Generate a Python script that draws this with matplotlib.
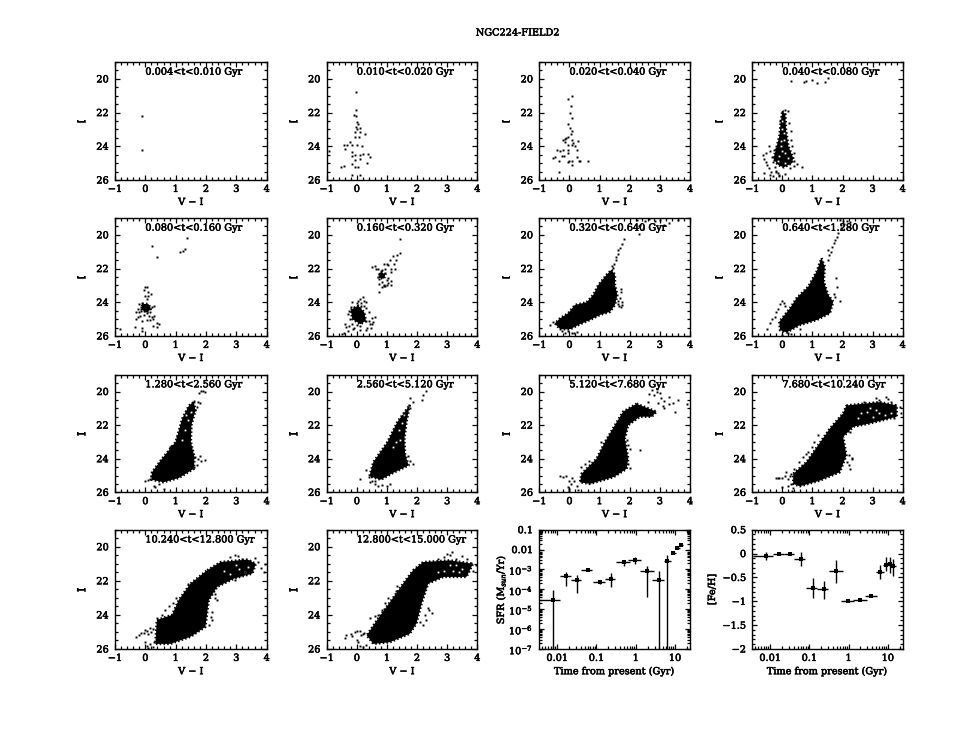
import matplotlib
matplotlib.use("Agg")
import matplotlib.pyplot as plt
import numpy as np
import matplotlib.patheffects as pe
from matplotlib.text import Text
from matplotlib.ticker import MultipleLocator, FixedLocator, FixedFormatter, NullFormatter

plt.rcParams['font.family'] = ['DejaVu Serif']
plt.rcParams['mathtext.fontset'] = 'dejavuserif'

W, H = 969, 748
TITLE = "NGC224-FIELD2"
AGE_LABELS = ["0.004<t<0.010 Gyr", "0.010<t<0.020 Gyr", "0.020<t<0.040 Gyr", "0.040<t<0.080 Gyr",
              "0.080<t<0.160 Gyr", "0.160<t<0.320 Gyr", "0.320<t<0.640 Gyr", "0.640<t<1.280 Gyr",
              "1.280<t<2.560 Gyr", "2.560<t<5.120 Gyr", "5.120<t<7.680 Gyr", "7.680<t<10.240 Gyr",
              "10.240<t<12.800 Gyr", "12.800<t<15.000 Gyr"]

# Individually readable stars (V-I, I)
stars_01 = ([-0.1, -0.1], [22.2, 24.2])
stars_02 = ([-0.03,-0.03,-0.1,-0.03,0.02,0.05,-0.03,0.1,0.02,-0.06,0.1,0.27,0.08,-0.06,-0.23,-0.15,-0.32,-0.4,-0.43,0.02,0.18,-0.92,-0.15,-0.06,0.1,0.21,0.38,0.44,0.33,-0.17,-0.06,0.1,-0.15,-0.06,0.05,-0.53,-0.42,-0.15,0.1],
            [20.8,21.85,22.15,22.2,22.55,22.7,22.85,22.9,23.0,23.15,23.15,23.3,23.45,23.45,23.75,23.95,23.9,24.15,23.95,23.9,24.0,24.25,24.35,24.5,24.5,24.45,24.45,24.65,25.0,24.6,24.8,24.75,25.05,25.2,25.25,25.2,25.15,25.7,25.7])
stars_03 = ([0.07,-0.04,0.04,0.02,0.07,-0.04,0.02,0.07,0.05,-0.04,-0.15,-0.2,-0.1,0.07,0.3,-0.15,-0.04,0.07,0.13,0.18,-0.04,0.24,-0.42,-0.31,-0.2,-0.04,-0.26,-0.18,-0.48,-0.56,-0.34,0.0,0.07,0.24,0.33,0.35,0.6,-0.04,0.07,-0.34],
            [21.03,21.2,21.6,22.0,22.3,22.7,22.9,23.1,23.3,23.45,23.55,23.65,23.5,23.6,23.7,23.75,23.9,23.9,23.8,24.0,24.2,24.2,24.2,24.3,24.2,24.4,24.55,24.55,24.65,24.67,24.85,24.85,24.9,24.65,24.85,24.9,24.9,24.95,25.1,25.5])
stars_04 = ([0.3,0.72,0.8,1.0,1.15,1.42,1.5,0.1,0.2,0.22,0.28,0.3,0.32,0.38,0.4,0.5,0.66,-0.65,-0.6,-0.55,-0.5,-0.45,-0.4,-0.35,-0.3,-0.25,-0.2,-0.38,-0.3,-0.22,-0.15,-0.1,-0.62,-0.45,-0.28,-0.12,0.1,0.25,0.4,-0.55,-0.4,-0.2,-0.08],
            [20.1,20.2,20.15,20.05,20.25,20.2,19.95,21.85,21.9,22.6,23.1,23.6,24.0,24.4,24.9,25.05,25.2,24.5,24.75,24.95,25.1,25.3,24.3,24.65,24.95,25.2,25.45,25.55,25.75,25.5,25.6,25.75,25.6,24.0,24.2,25.7,25.65,25.3,25.15,24.4,25.7,24.1,22.5])
stars_05 = ([0.22,0.4,1.15,1.25,1.32,1.37,-0.85,0.0,-0.05,0.05,0.1,0.1,0.18,-0.02,0.05,-0.1,-0.2,-0.15,-0.05,0.05,0.12,0.22,0.3,-0.25,-0.2,-0.15,-0.08,0.0,0.08,0.15,-0.3,-0.18,-0.05,0.05,0.12,0.22,0.3,-0.3,-0.25,-0.1,0.05,0.15,0.25,0.38,-0.35,-0.12,-0.1,0.25,0.38,0.45],
            [20.65,21.3,21.0,20.95,20.85,20.2,25.6,23.1,23.3,23.1,23.4,23.6,23.5,23.6,23.8,24.05,24.1,24.3,24.15,24.2,24.25,24.3,24.2,24.4,24.55,24.5,24.35,24.5,24.4,24.55,24.6,24.8,24.75,24.65,24.8,24.85,24.8,25.0,24.85,25.1,25.05,25.05,25.0,25.25,25.45,25.5,25.7,25.4,25.45,25.3])
stars_06 = ([1.45,1.42,1.35,1.2,1.1,1.0,1.3,1.25,1.05,0.9,0.6,0.5,0.7,0.65,0.82,0.72,0.95,1.12,1.28,0.95,1.15,1.05,0.75,0.85,1.0,0.82,0.9,1.12,0.72,0.75,0.9,1.0,0.95,1.05,1.12,0.72,0.8,0.85,
             0.2,0.12,0.05,0.25,0.3,0.15,-0.15,0.0,0.15,0.25,-0.2,-0.1,0.02,0.3,0.4,-0.15,0.4,-0.25,-0.3,0.0,0.1,0.45,0.55,0.62,0.5,-0.4,-0.35,-0.3,-0.25,-0.12,-0.42,0.35,0.48,0.52,-0.5,0.1,0.32,-0.22,-0.08,0.3,0.22],
            [20.25,21.05,21.2,21.25,21.5,21.7,21.5,21.75,21.8,21.75,21.85,21.9,22.0,22.0,22.1,22.3,22.25,22.05,22.0,22.0,22.2,22.55,22.6,22.8,22.7,23.1,23.05,23.0,23.4,22.9,22.95,23.0,23.05,22.85,22.75,22.3,22.15,22.45,
             23.7,23.8,23.9,23.9,24.0,24.05,24.0,24.05,24.2,24.2,24.3,24.25,24.3,24.35,24.6,25.3,25.1,24.5,24.7,25.35,25.4,25.3,25.15,24.85,24.95,25.3,25.45,25.7,25.4,25.6,25.85,25.55,25.55,25.3,25.9,25.65,25.65,25.0,25.55,25.1,24.95])
stars_07 = ([1.8,1.75,1.68,1.62,1.6,1.55,1.55,1.48,1.45,1.4,1.7,1.72,1.68,1.75,1.65,1.6,1.4,1.62,1.7,1.75,0.15,-0.05,1.0,1.15,2.25,2.35,2.5,2.65,2.85,3.0,3.15,3.3,3.6,2.3,2.45,2.3,-0.4,-0.55,-0.65,-0.25,-0.15,0.1,0.25],
            [20.25,20.55,20.75,20.9,21.15,21.3,21.5,21.7,21.95,21.85,23.2,23.4,23.75,24.0,24.2,23.95,23.0,24.1,24.3,24.15,25.85,25.7,23.75,23.8,19.1,19.4,19.2,19.05,19.2,19.1,19.4,19.3,19.1,19.5,19.65,19.95,25.3,25.15,25.35,25.7,25.85,25.8,25.75])
stars_08 = ([1.92,2.0,2.05,2.15,2.25,1.95,2.2,1.85,1.8,1.75,1.7,1.65,1.6,1.55,1.5,1.5,1.78,1.82,1.9,1.75,1.7,1.62,1.55,-0.5,-0.4,-0.35,-0.25,-0.15,-0.2,-0.08,0.0,0.05,0.1,0.3,1.9,1.95,0.0,0.2,0.6],
            [19.1,19.2,19.35,19.15,19.25,19.6,19.55,19.9,20.1,20.3,20.5,20.7,21.0,21.2,20.9,21.5,22.55,23.1,23.9,23.7,23.5,24.1,24.5,25.6,25.2,25.0,24.85,24.4,24.6,24.1,23.95,24.05,24.2,25.9,19.0,19.4,25.95,25.85,25.6])
stars_09 = ([1.85,1.78,1.9,1.95,1.6,1.55,1.75,1.7,1.8,1.65,1.4,1.2,1.05,0.85,0.8,1.65,1.75,1.85,1.8,1.95,1.6,1.7,0.0,0.18,0.32,0.45,0.15,0.3,0.1,0.6,2.85],
            [19.95,20.1,19.95,20.05,20.55,20.7,20.6,20.9,20.7,21.1,21.3,21.8,22.7,23.25,23.3,23.9,24.0,24.15,23.85,24.05,24.5,24.4,25.35,25.0,25.7,25.5,25.2,25.65,25.25,25.8,18.95])
stars_10 = ([2.3,2.2,2.15,1.85,1.75,1.72,1.78,1.6,1.25,1.2,1.55,1.7,1.75,1.85,0.1,0.3,0.4,0.45,0.5,0.52,0.6,0.7,0.85,1.0,1.1,0.55,0.62],
            [19.95,20.2,20.5,20.65,20.4,20.8,21.0,21.45,23.8,23.7,23.7,23.85,24.15,24.3,25.2,24.7,25.1,25.4,25.0,25.3,25.5,25.6,25.55,25.6,25.5,24.55,25.35])
stars_11 = ([2.65,2.75,2.8,2.9,3.0,3.05,2.9,3.15,3.3,3.45,3.6,3.9,2.6,2.95,3.1,3.3,3.15,3.5,1.9,1.95,2.0,2.35,-0.3,-0.2,-0.1,0.0,0.1,0.15,0.05,0.25,-0.05,0.0,0.0,0.3,1.95,2.0,0.4,0.5,0.65,1.05],
            [20.15,19.9,20.2,20.0,20.1,20.4,19.85,20.55,20.3,20.7,20.5,20.75,20.6,20.7,20.85,20.75,21.0,21.2,22.9,23.2,23.4,23.5,25.0,25.1,25.0,25.3,25.15,25.3,25.5,25.65,25.7,25.8,25.95,25.85,24.3,24.55,24.5,24.3,24.15,23.0])
stars_12 = ([-0.2,-0.15,-0.1,0.0,0.08,0.12,0.2,0.25,0.3,0.0,0.2,0.3,0.32,0.35,3.1,3.2,3.0,3.35,3.5,3.6,3.75,3.9,3.95,3.7,2.25,2.2,2.3,2.15,2.2,2.25,2.3,0.55,0.7,0.8,0.85,1.0,0.4,1.05,1.2,2.7,3.45],
            [25.15,25.15,25.15,25.15,25.0,24.8,25.2,25.05,24.9,25.7,25.65,25.5,25.9,25.75,20.4,20.5,20.7,20.75,20.45,20.6,20.8,20.95,21.3,21.6,22.4,23.8,24.0,24.2,24.4,24.6,23.95,24.2,23.9,23.7,23.6,23.3,24.6,23.0,22.6,20.65,20.35])
stars_13 = ([-0.3,-0.2,-0.15,-0.05,0.0,0.05,0.1,0.15,0.2,0.25,0.0,0.05,0.15,0.3,0.25,0.1,0.4,0.55,0.65,0.78,0.9,1.0,1.4,2.3,2.35,2.2,2.15,2.2,2.3,2.8,2.95,3.05,3.2,3.45,3.6,3.7,3.8,3.9,3.95,3.3,2.95,2.1],
            [25.3,25.2,25.05,25.05,24.9,24.95,25.1,24.75,25.0,24.8,25.6,25.8,25.7,25.6,25.9,25.95,24.2,24.0,23.7,23.5,23.3,23.0,22.2,23.0,23.15,23.8,24.1,24.3,22.8,20.6,20.5,20.55,20.7,20.85,20.65,20.9,21.25,21.5,21.0,21.5,21.95,24.6])
stars_14 = ([-0.4,-0.35,-0.2,-0.15,-0.05,0.0,0.1,0.2,0.15,0.25,0.05,0.1,0.2,0.3,0.0,0.45,0.6,0.7,0.85,0.95,1.05,1.3,1.35,2.1,2.25,2.35,2.4,2.5,2.2,2.3,3.0,3.1,3.15,3.3,3.5,3.65,3.8,3.85,3.95,2.7,2.9],
            [25.35,25.2,25.1,25.25,25.0,24.95,24.95,25.1,25.2,25.05,25.6,25.85,25.9,25.75,25.5,24.2,24.05,24.0,23.7,23.3,23.0,22.6,22.3,24.4,24.0,23.6,23.7,23.9,24.6,24.3,20.45,20.5,20.3,20.7,20.55,20.7,20.95,21.4,21.05,20.7,20.6])
STARS = [stars_01, stars_02, stars_03, stars_04, stars_05, stars_06, stars_07,
         stars_08, stars_09, stars_10, stars_11, stars_12, stars_13, stars_14]

# Outlines of the regions that are solid black in the picture (V-I, I)
solid_04 = [(0.0,21.9),(0.1,22.1),(0.12,23.0),(0.2,24.0),(0.36,24.7),(0.32,25.0),(0.05,25.25),(-0.15,25.1),(-0.3,24.75),(-0.2,24.1),(-0.1,23.4),(-0.05,22.5)]
solid_05 = [(-0.1,24.1),(0.1,24.1),(0.18,24.4),(0.05,24.6),(-0.12,24.45)]
solid_06 = [(-0.2,24.45),(0.05,24.2),(0.25,24.6),(0.3,25.1),(0.12,25.3),(-0.15,25.0)]
solid_06b = [(0.8,22.2),(0.95,22.35),(0.9,22.6),(0.72,22.55)]
solid_07 = [(1.4,22.07),(1.51,22.37),(1.51,22.97),(1.59,23.56),(1.51,24.16),(1.35,24.56),(1.01,24.75),(0.68,25.05),(0.35,25.3),(0.02,25.6),(-0.31,25.6),(-0.48,25.25),(-0.31,24.95),(-0.04,24.65),(0.18,24.16),(0.57,24.0),(0.79,23.56),(0.96,22.97),(1.23,22.37)]
solid_08 = [(1.3,21.38),(1.41,21.88),(1.38,22.77),(1.52,23.56),(1.69,23.96),(1.58,24.65),(1.14,25.05),(0.58,25.35),(0.14,25.79),(-0.08,25.65),(-0.1,25.15),(0.25,24.36),(0.47,23.76),(0.86,23.07),(1.14,22.17)]
solid_09 = [(1.6,20.63),(1.65,21.13),(1.52,22.0),(1.5,23.0),(1.62,23.9),(1.6,24.6),(1.1,25.15),(0.6,25.4),(0.2,25.25),(0.22,24.8),(0.55,24.0),(1.0,23.0),(1.22,21.6),(1.44,20.83)]
solid_10 = [(1.76,20.8),(1.65,21.8),(1.58,22.8),(1.6,23.7),(1.72,24.4),(1.2,24.85),(0.8,25.25),(0.42,25.05),(0.55,24.2),(1.02,23.0),(1.35,21.8)]
solid_11 = [(2.23,20.73),(2.89,21.2),(2.73,21.5),(2.34,21.5),(1.95,22.0),(1.84,22.8),(1.95,24.0),(1.9,24.6),(1.46,25.1),(0.68,25.5),(0.35,25.4),(0.4,24.9),(0.9,24.0),(1.18,23.0),(1.51,22.0),(1.78,21.2)]
solid_12 = [(2.13,20.83),(2.69,20.73),(3.24,20.63),(3.8,20.83),(3.8,21.5),(2.91,21.9),(2.36,22.1),(2.02,22.7),(2.13,23.8),(1.91,24.8),(1.25,25.3),(0.58,25.64),(0.36,25.5),(0.36,24.9),(0.8,24.2),(1.19,23.2),(1.58,22.2),(2.02,21.3)]
solid_13 = [(2.04,21.38),(2.48,20.9),(3.37,20.75),(3.64,21.0),(3.53,21.57),(2.92,21.87),(2.37,22.35),(2.09,23.13),(1.98,24.7),(1.49,25.28),(0.82,25.7),(0.33,25.7),(0.38,24.3),(0.88,24.0),(1.1,23.13),(1.49,22.16)]
solid_14 = [(1.87,21.38),(2.2,20.9),(3.09,20.8),(3.86,21.0),(3.64,21.77),(2.87,21.77),(2.37,22.16),(2.15,23.33),(1.98,24.5),(1.76,25.1),(1.1,25.6),(0.55,25.7),(0.33,25.2),(0.71,24.2),(1.15,23.13),(1.54,22.16)]
SOLIDS = {3: [solid_04], 4: [solid_05], 5: [solid_06, solid_06b], 6: [solid_07], 7: [solid_08],
          8: [solid_09], 9: [solid_10], 10: [solid_11], 11: [solid_12], 12: [solid_13], 13: [solid_14]}

# White holes seen inside the black regions (V-I, I)
holes_04 = ([0.0,0.05,-0.05,0.1,-0.1,0.2,0.0,-0.15,0.0,0.1,0.05,-0.05],
            [23.0,23.6,24.0,24.4,24.6,24.7,24.3,24.85,22.5,25.0,23.2,23.7])
holes_09 = ([1.4,1.5,1.3,1.2,1.35], [21.7,21.2,22.3,22.9,21.4])
holes_10 = ([1.55,1.4,1.45,1.2,1.3,1.5], [21.4,22.3,22.9,23.3,23.0,21.9])
holes_12 = ([2.6,2.8,3.0,3.2,3.1,3.4,3.6,2.9,2.5], [21.3,21.2,21.5,21.3,21.1,21.4,21.3,21.0,21.6])
holes_13 = ([2.8,3.1,3.3,3.4,3.0,2.6], [21.6,21.3,21.5,21.2,21.1,21.4])
holes_14 = ([2.9,3.2,3.4,3.5,3.1,2.7,3.3], [21.4,21.4,21.5,21.3,21.1,21.5,21.1])
HOLES = {3: holes_04, 8: holes_09, 9: holes_10, 11: holes_12, 12: holes_13, 13: holes_14}

# Time bins (Gyr)
t_mid = [0.0076,0.0165,0.0325,0.062,0.125,0.24,0.49,0.98,1.95,3.84,6.2,9.0,11.5,13.9]
t_lo  = [0.0036,0.0115,0.022,0.04,0.08,0.16,0.32,0.64,1.28,2.56,5.12,7.68,10.24,12.8]
t_hi  = [0.0117,0.022,0.04,0.076,0.16,0.30,0.70,1.35,2.9,5.3,8.0,10.5,13.5,16.0]

# SFR (log10) with upper and lower limits; -9 runs off the bottom of the axis
log_sfr    = [-4.52,-3.35,-3.55,-3.01,-3.65,-3.46,-2.64,-2.54,-3.09,-3.55,-2.59,-2.17,-1.92,-1.75]
log_sfr_hi = [-4.02,-3.13,-3.26,-2.97,-3.55,-3.18,-2.51,-2.39,-2.81,-3.06,-2.29,-2.11,-1.87,-1.70]
log_sfr_lo = [-9,-3.82,-4.18,-3.05,-3.75,-3.88,-2.84,-2.73,-4.39,-9,-9,-2.23,-1.97,-1.80]

feh    = [-0.045,0.0,0.0,-0.115,-0.73,-0.74,-0.37,-0.99,-0.97,-0.89,-0.39,-0.23,-0.22,-0.27]
feh_hi = [0.03,0.02,0.02,0.025,-0.51,-0.57,-0.13,-0.97,-0.95,-0.87,-0.25,-0.08,-0.08,-0.12]
feh_lo = [-0.125,-0.02,-0.02,-0.27,-0.93,-0.95,-0.62,-1.01,-0.99,-0.91,-0.53,-0.37,-0.41,-0.46]

COLS = [(115, 266.7), (326.7, 477.3), (539.3, 690), (752.3, 902.7)]
ROWS = [(62, 180), (218, 336), (374.7, 492.3), (529.7, 649)]
FS = 7
fig = plt.figure(figsize=(W / 100, H / 100), dpi=100, facecolor='white')

def make_ax(r, c):
    x0, x1 = COLS[c]
    y0, y1 = ROWS[r]
    ax = fig.add_axes([x0 / W, 1 - y1 / H, (x1 - x0) / W, (y1 - y0) / H])
    for s in ax.spines.values():
        s.set_linewidth(1.0)
    ax.tick_params(which='both', direction='in', top=True, right=True, width=0.9, labelsize=FS)
    ax.tick_params(axis='x', which='both', pad=3.5)
    ax.tick_params(axis='y', which='both', pad=4.5)
    ax.tick_params(which='major', length=3.8)
    ax.tick_params(which='minor', length=1.9)
    return ax

for i in range(14):
    r, c = divmod(i, 4)
    ax = make_ax(r, c)
    ax.set_xlim(-1, 4)
    ax.set_ylim(26, 19)
    ax.xaxis.set_major_locator(MultipleLocator(1))
    ax.xaxis.set_minor_locator(MultipleLocator(0.2))
    ax.yaxis.set_major_locator(MultipleLocator(2))
    ax.yaxis.set_minor_locator(MultipleLocator(0.5))
    for poly in SOLIDS.get(i, []):
        px, py = zip(*poly)
        ax.fill(px, py, color='black', lw=0)
        # a broken stroke on the outline gives the speckled fringe of the cloud
        ax.plot(list(px) + [px[0]], list(py) + [py[0]], color='black', lw=1.8,
                ls=(0, (0.6, 0.9)), solid_capstyle='butt')
    if i in HOLES:
        ax.plot(HOLES[i][0], HOLES[i][1], ls='none', marker='s', ms=1.3, mew=0, color='white')
    ax.plot(STARS[i][0], STARS[i][1], ls='none', marker='s', ms=1.4, mew=0, color='black')
    ax.text(0, 19.6, AGE_LABELS[i], fontsize=FS, ha='left', va='center')
    ax.set_xlabel("V − I", fontsize=FS)
    ax.xaxis.set_label_coords(0.5, -0.19)
    ax.xaxis.label.set_va('center')
    ax.set_ylabel("I", fontsize=FS)
    ax.yaxis.set_label_coords(-0.217, 0.5)
    ax.yaxis.label.set_va('center')

def time_axis(ax):
    ax.set_xscale('log')
    ax.set_xlim(0.0035, 24)
    ax.xaxis.set_major_locator(FixedLocator([0.01, 0.1, 1, 10]))
    ax.xaxis.set_major_formatter(FixedFormatter(["0.01", "0.1", "1", "10"]))
    minor = [m * 10.0 ** e for e in (-3, -2, -1, 0, 1) for m in range(2, 10)]
    ax.xaxis.set_minor_locator(FixedLocator(minor))
    ax.xaxis.set_minor_formatter(NullFormatter())
    ax.set_xlabel("Time from present (Gyr)", fontsize=FS)
    ax.xaxis.set_label_coords(0.5, -0.19)
    ax.xaxis.label.set_va('center')

def bars(ax, y, hi, lo):
    y, hi, lo = map(np.asarray, (y, hi, lo))
    tm, tl, th = map(np.asarray, (t_mid, t_lo, t_hi))
    ax.errorbar(tm, y, xerr=[tm - tl, th - tm], yerr=[y - lo, hi - y], fmt='s', ms=2.4, mew=0,
                color='black', ecolor='black', elinewidth=1.0, capsize=2, capthick=1.0)

# SFR panel
ax = make_ax(3, 2)
time_axis(ax)
ax.set_yscale('log')
ax.set_ylim(1e-7, 0.1)
ax.yaxis.set_major_locator(FixedLocator([1e-7, 1e-6, 1e-5, 1e-4, 1e-3, 1e-2, 1e-1]))
ax.yaxis.set_major_formatter(FixedFormatter(["$10^{-7}$", "$10^{-6}$", "$10^{-5}$", "$10^{-4}$", "$10^{-3}$", "0.01", "0.1"]))
ax.yaxis.set_minor_locator(FixedLocator([m * 10.0 ** e for e in range(-7, -1) for m in range(2, 10)]))
ax.yaxis.set_minor_formatter(NullFormatter())
bars(ax, 10.0 ** np.array(log_sfr), 10.0 ** np.array(log_sfr_hi), 10.0 ** np.array(log_sfr_lo))
ax.set_ylabel(r"SFR (M$_{sun}$/Yr)", fontsize=FS)
ax.yaxis.set_label_coords(-0.255, 0.5)
ax.yaxis.label.set_va('center')

# [Fe/H] panel
ax = make_ax(3, 3)
time_axis(ax)
ax.set_ylim(-2, 0.5)
ax.yaxis.set_major_locator(FixedLocator([-2, -1.5, -1, -0.5, 0, 0.5]))
ax.yaxis.set_major_formatter(FixedFormatter(["−2", "−1.5", "−1", "−0.5", "0", "0.5"]))
ax.yaxis.set_minor_locator(MultipleLocator(0.1))
bars(ax, feh, feh_hi, feh_lo)
ax.set_ylabel("[Fe/H]", fontsize=FS)
ax.yaxis.set_label_coords(-0.265, 0.5)
ax.yaxis.label.set_va('center')

fig.text(518 / W, 1 - 33 / H, TITLE, fontsize=FS, ha='center', va='center')

# The reference's lettering is heavy: thicken every text a little
fig.canvas.draw()
for t in fig.findobj(Text):
    t.set_path_effects([pe.withStroke(linewidth=0.4, foreground='black')])

fig.savefig("out.png", dpi=100, facecolor='white')
